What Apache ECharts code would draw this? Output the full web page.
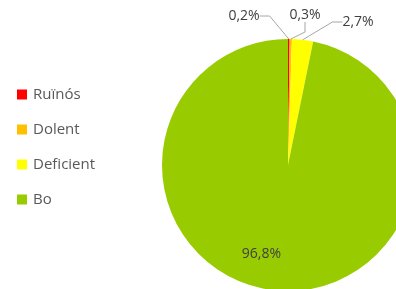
<!DOCTYPE html>
<html><head><meta charset="utf-8">
<script src="https://cdn.jsdelivr.net/npm/echarts@6/dist/echarts.min.js"></script>
<style>html,body{margin:0;padding:0;background:#fff}#c{width:396px;height:289px}</style>
</head><body><div id="c"></div>
<script>
var categories = ['Ruïnós', 'Dolent', 'Deficient', 'Bo'];
var values = [0.2, 0.3, 2.7, 96.8];
var labels = ['0,2%', '0,3%', '2,7%', '96,8%'];
var colors = ['#FF0000', '#FFC000', '#FFFF00', '#99CC00'];
var labelSpots = [[244, 16], [305, 15], [358, 22], null];

var chart = echarts.init(document.getElementById('c'), null, {renderer: 'canvas'});
var data = categories.map(function (c, i) {
  var d = {name: c, value: values[i], itemStyle: {color: colors[i]}};
  if (i === 3) {
    d.label = {position: 'inside', color: '#404040'};
    d.labelLine = {show: false};
  }
  return d;
});
chart.setOption({
  animation: false,
  legend: {
    orient: 'vertical', left: 12, top: 82,
    itemWidth: 10, itemHeight: 10, itemGap: 20,
    icon: 'rect',
    textStyle: {color: '#595959', fontSize: 15, fontFamily: 'Open Sans', lineHeight: 15, padding: [0, 0, 0, 1]},
    data: categories
  },
  series: [{
    type: 'pie',
    center: [288, 165], radius: [0, 126],
    startAngle: 90, clockwise: true,
    data: data,
    avoidLabelOverlap: false,
    label: {
      formatter: function (p) { return labels[p.dataIndex]; },
      color: '#404040', fontSize: 14, fontFamily: 'Open Sans'
    },
    labelLine: {show: true, length: 12, length2: 10, lineStyle: {color: '#A6A6A6', width: 1}},
    labelLayout: function (p) {
      var s = labelSpots[p.dataIndex];
      if (!s) return {dx: -20, dy: 23};
      return {x: s[0], y: s[1], align: 'center', verticalAlign: 'middle'};
    },
    emphasis: {disabled: true}
  }]
});
</script></body></html>
